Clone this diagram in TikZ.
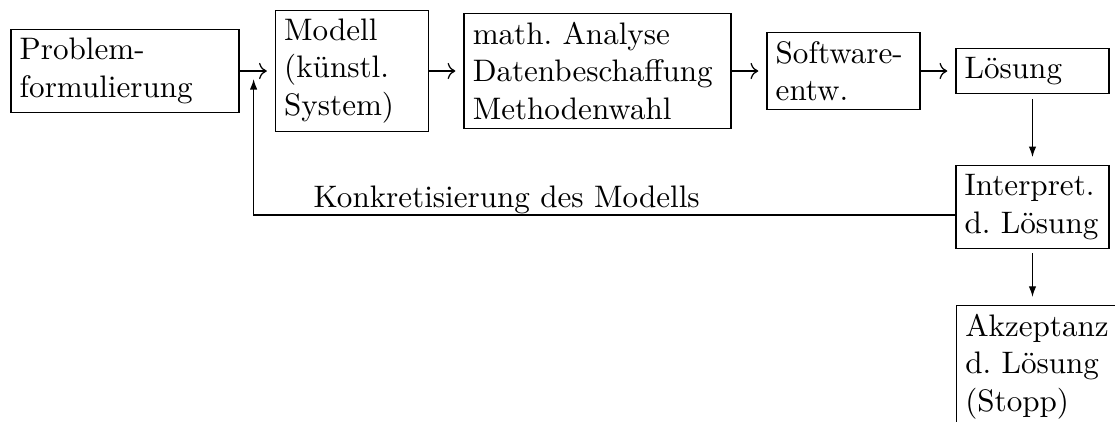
\documentclass[tikz,border=0pt]{standalone}
\usepackage{tikz}
\usetikzlibrary{arrows.meta}
\usetikzlibrary{calc}

\begin{document}
\begin{tikzpicture}[x=0.3215pt, y=-0.3215pt, line width=0.4pt,
  box/.style={draw, rectangle, inner sep=2.8pt, align=left, text width=43.6pt,
    font=\frenchspacing},
  pfeil/.style={->, shorten >=2.6pt},
  pfeilab/.style={-{Latex[length=3.4pt,width=2.4pt]}, shorten <=1.5pt, shorten >=2.6pt}]
  \useasboundingbox (0,0) rectangle (1115,421);

  \node[box, text width=67.7pt] (prob) at (125,71) {Problem-\\formulierung};
  \node[box] (mod) at (352,71) {Modell\\(künstl.\\System)};
  \node[box, text width=80.2pt] (ana) at (597.5,71) {math. Analyse\\Datenbeschaffung\\Methodenwahl};
  \node[box] (soft) at (843.5,71) {Software-\\entw.};
  \node[box] (loes) at (1032.5,71) {Lösung};
  \node[box] (interp) at (1032.5,207) {Interpret.\\d.~Lösung};
  \node[box, anchor=north west, text width=48pt] (akz) at (956,305) {Akzeptanz\\d.~Lösung\\(Stopp)};

  \foreach \from/\to in {prob/mod, mod/ana, ana/soft, soft/loes}
    \draw[pfeil] (\from) -- (\to);
  \draw[pfeilab] (loes) -- (interp);
  \draw[pfeilab] (interp) -- (akz.north -| interp.south);

  % Rueckkopplung
  \coordinate (rk) at ($(prob.east)+(14,8)$);
  \draw[pfeilab, shorten <=0pt, shorten >=0pt] ($(interp.west)+(0,8)$) -| (rk);
  \node[anchor=base west, inner sep=0pt] (konk) at (313,207) {Konkretisierung des Modells};
\end{tikzpicture}
\end{document}
